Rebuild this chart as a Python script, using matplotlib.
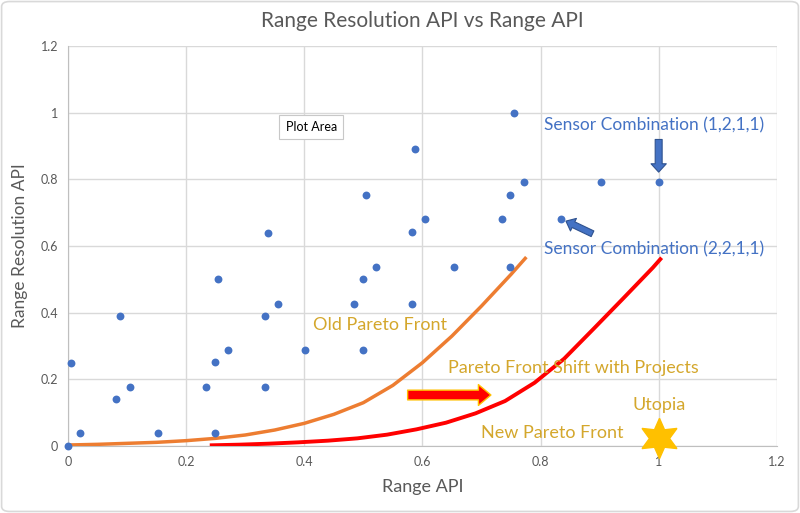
import matplotlib
matplotlib.use("Agg")
import matplotlib.pyplot as plt
from matplotlib.patches import FancyArrowPatch, FancyBboxPatch

plt.rcParams['font.family'] = ['Lato', 'DejaVu Sans']

# Scatter data (Range API, Range Resolution API)
range_api = [0.0, 0.005, 0.02, 0.082, 0.088, 0.105, 0.152, 0.234, 0.249, 0.249,
             0.254, 0.271, 0.333, 0.333, 0.338, 0.355, 0.402, 0.485, 0.499, 0.499,
             0.505, 0.521, 0.583, 0.583, 0.588, 0.605, 0.653, 0.735, 0.749, 0.749,
             0.755, 0.772, 0.834, 0.903, 1.0]
range_res_api = [0.0, 0.25, 0.04, 0.14, 0.39, 0.177, 0.038, 0.177, 0.252, 0.038,
                 0.50, 0.288, 0.391, 0.177, 0.64, 0.427, 0.288, 0.427, 0.288, 0.502,
                 0.752, 0.537, 0.427, 0.642, 0.891, 0.681, 0.537, 0.681, 0.537, 0.752,
                 1.0, 0.791, 0.681, 0.791, 0.791]

# Old Pareto front
old_front_x = [0.0, 0.05, 0.1, 0.15, 0.2, 0.25, 0.3, 0.35, 0.4, 0.45, 0.5, 0.55,
               0.6, 0.65, 0.7, 0.75, 0.776]
old_front_y = [0.003, 0.005, 0.008, 0.011, 0.016, 0.023, 0.033, 0.048, 0.068, 0.095, 0.13, 0.182,
               0.25, 0.33, 0.42, 0.515, 0.567]

# New Pareto front
new_front_x = [0.24, 0.29, 0.34, 0.39, 0.44, 0.49, 0.54, 0.59, 0.64, 0.69, 0.74, 0.79,
               0.84, 0.89, 0.94, 0.99, 1.005]
new_front_y = [0.002, 0.004, 0.007, 0.011, 0.016, 0.023, 0.034, 0.05, 0.07, 0.098, 0.135, 0.19,
               0.262, 0.352, 0.443, 0.535, 0.565]

utopia_x = [1.0]
utopia_y = [0.024]

x_ticks = [0, 0.2, 0.4, 0.6, 0.8, 1.0, 1.2]
x_tick_labels = ['0', '0.2', '0.4', '0.6', '0.8', '1', '1.2']
y_ticks = [0, 0.2, 0.4, 0.6, 0.8, 1.0, 1.2]
y_tick_labels = ['0', '0.2', '0.4', '0.6', '0.8', '1', '1.2']

BLUE = '#4472C4'
GOLD = '#D4A72C'
GRAY = '#595959'

fig = plt.figure(figsize=(8, 5.13), dpi=100)
fig.patch.set_facecolor('white')
border = FancyBboxPatch((0.002, 0.003), 0.996, 0.994, boxstyle='round,pad=0,rounding_size=0.01',
                        transform=fig.transFigure, facecolor='none', edgecolor='#D9D9D9', lw=1.2)
fig.patches.append(border)

ax = fig.add_axes([0.085, 0.1306, 0.886, 0.7794])
ax.set_xlim(0, 1.2)
ax.set_ylim(0, 1.2)
ax.set_xticks(x_ticks)
ax.set_xticklabels(x_tick_labels)
ax.set_yticks(y_ticks)
ax.set_yticklabels(y_tick_labels)
ax.grid(True, color='#D9D9D9', lw=1)
ax.set_axisbelow(True)
for s in ['top', 'right']:
    ax.spines[s].set_visible(False)
for s in ['left', 'bottom']:
    ax.spines[s].set_color('#BFBFBF')
ax.tick_params(length=0, labelsize=9, colors=GRAY, pad=7)

ax.plot(old_front_x, old_front_y, color='#ED7D31', lw=2.5, solid_capstyle='butt',
        solid_joinstyle='round', zorder=3)
ax.plot(new_front_x, new_front_y, color='#FF0000', lw=2.8, solid_capstyle='butt',
        solid_joinstyle='round', zorder=3)
ax.scatter(range_api, range_res_api, s=32, color=BLUE, zorder=4, linewidths=0, clip_on=False)
ax.plot(utopia_x, utopia_y, marker=(6, 1, 0), markersize=29, color='#FFC000',
        markeredgecolor='#FFC000', linestyle='none', zorder=5, clip_on=False)

ax.set_title('Range Resolution API vs Range API', fontsize=15, color=GRAY, pad=14)
ax.set_xlabel('Range API', fontsize=13, color=GRAY, labelpad=8)
ax.set_ylabel('Range Resolution API', fontsize=12.5, color=GRAY, labelpad=9)

# annotations
ax.text(0.993, 0.961, 'Sensor Combination (1,2,1,1)', color=BLUE, fontsize=12.5, ha='center', va='center')
ax.text(0.993, 0.589, 'Sensor Combination (2,2,1,1)', color=BLUE, fontsize=12.5, ha='center', va='center')
ax.text(0.528, 0.363, 'Old Pareto Front', color=GOLD, fontsize=13, ha='center', va='center')
ax.text(0.856, 0.234, 'Pareto Front Shift with Projects', color=GOLD, fontsize=13, ha='center', va='center')
ax.text(1.0, 0.123, 'Utopia', color=GOLD, fontsize=13, ha='center', va='center')
ax.text(0.819, 0.039, 'New Pareto Front', color=GOLD, fontsize=13, ha='center', va='center')

ax.text(0.412, 0.958, 'Plot Area', color='black', fontsize=9, ha='center', va='center', zorder=6,
        bbox=dict(boxstyle='square,pad=0.5', facecolor='white', edgecolor='#C8C8C8', lw=0.8))

red_arrow = FancyArrowPatch((0.575, 0.153), (0.716, 0.153), arrowstyle='simple,head_length=9,head_width=15,tail_width=7',
                            mutation_scale=1, facecolor='#FF0000', edgecolor='#FFC000', lw=1, shrinkA=0, shrinkB=0, zorder=5)
ax.add_patch(red_arrow)
down_arrow = FancyArrowPatch((1.0, 0.92), (1.0, 0.822), arrowstyle='simple,head_length=6,head_width=11,tail_width=5',
                             mutation_scale=1, facecolor=BLUE, edgecolor='#2F528F', lw=0.8, shrinkA=0, shrinkB=0, zorder=5)
ax.add_patch(down_arrow)
diag_arrow = FancyArrowPatch((0.888, 0.637), (0.843, 0.675), arrowstyle='simple,head_length=6,head_width=10,tail_width=4.5',
                             mutation_scale=1, facecolor=BLUE, edgecolor='#2F528F', lw=0.8, shrinkA=0, shrinkB=0, zorder=5)
ax.add_patch(diag_arrow)

fig.savefig('out.png', dpi=100)
